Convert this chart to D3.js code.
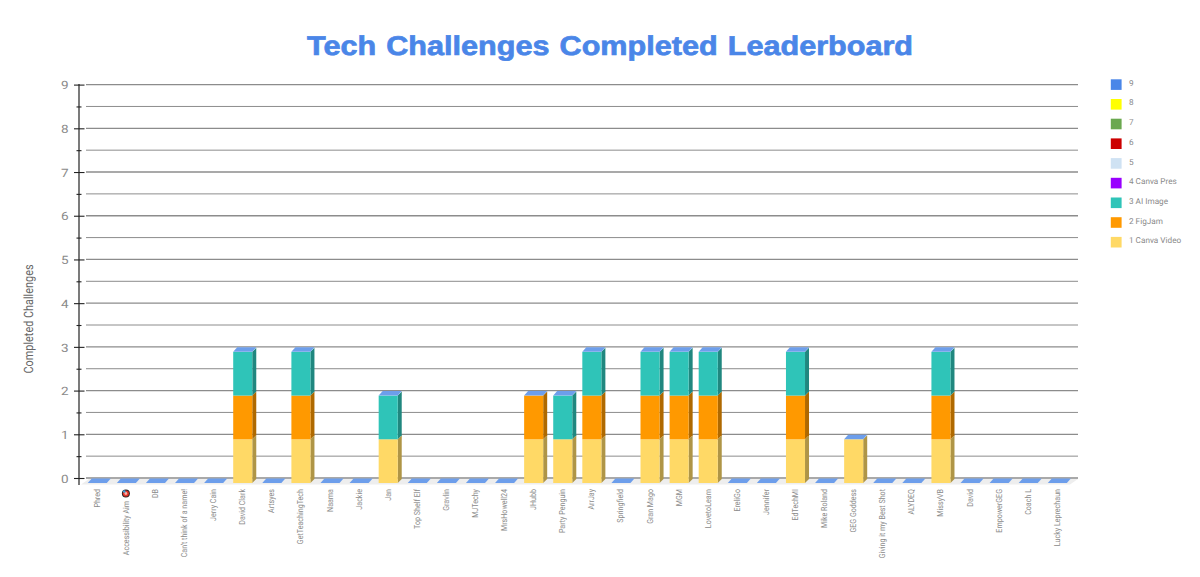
<!DOCTYPE html>
<html><head><meta charset="utf-8">
<script src="https://cdn.jsdelivr.net/npm/d3@7"></script>
<style>html,body{margin:0;padding:0;background:#fff;overflow:hidden}svg{display:block;text-rendering:geometricPrecision}</style>
</head><body><svg id="c" width="1200" height="577"></svg>
<script>
const categories = ["Phred","Accessibility Aim","DB","Can't think of a name!","Jerry Cain","David Clark","Artsyes","GetTeachingTech","Naama","Jackie","Jan","Top Shelf Elf","Gravlin","MJTechy","MrsHowell24","JHubb","Party Penguin","ArrJay","Springfield","Gran Mago","MGM","LovetoLearn","EreliGo","Jennifer","EdTechMI","Mike Roland","GEG Goddess","Giving it my Best Shot","ALYDEQ","MissyVB","David","EmpowerGEG","Coach L","Lucky Leprechaun"];
const canvaVideo = [0,0,0,0,0,1,0,1,0,0,1,0,0,0,0,1,1,1,0,1,1,1,0,0,1,0,1,0,0,1,0,0,0,0];
const figJam     = [0,0,0,0,0,1,0,1,0,0,0,0,0,0,0,1,0,1,0,1,1,1,0,0,1,0,0,0,0,1,0,0,0,0];
const aiImage    = [0,0,0,0,0,1,0,1,0,0,1,0,0,0,0,0,1,1,0,1,1,1,0,0,1,0,0,0,0,1,0,0,0,0];
const legendNames = ["9","8","7","6","5","4 Canva Pres","3 AI Image","2 FigJam","1 Canva Video"];
const legendColors = ["#4a86e8","#ffff00","#6aa84f","#cc0000","#cfe2f3","#9900ff","#2fc4b8","#ff9900","#ffd966"];
const stackSeries = [
  {values:canvaVideo,color:"#ffd966"},
  {values:figJam,color:"#ff9900"},
  {values:aiImage,color:"#2fc4b8"}
];
const yTicks = d3.range(0,9.5,0.5);

const svg = d3.select("#c");
const y = d3.scaleLinear().domain([0,9]).range([478,84.6]);
const x = d3.scaleBand().domain(categories).range([82.8,1071.8]).paddingInner(0.345).paddingOuter(0.17);
const dx = 4, dy = 4, lift = 5;
const squash = 0.85;

// title
svg.append("text").attr("x",610).attr("y",54.5).attr("text-anchor","middle")
  .attr("font-family","'Liberation Sans',Arial,sans-serif").attr("font-weight",700).attr("font-size",27)
  .attr("fill","#4a86e8").attr("stroke","#4a86e8").attr("stroke-width",0.7)
  .attr("word-spacing",1.5)
  .attr("textLength",606).attr("lengthAdjust","spacingAndGlyphs").text("Tech Challenges Completed Leaderboard");

// y axis title
svg.append("text").attr("transform",`translate(33,319) scale(1,${squash}) rotate(-90)`).attr("text-anchor","middle")
  .attr("font-family","Roboto").attr("font-size",12.8).attr("fill","#666").text("Completed Challenges");

// floor
const floor = [[81,484.5],[89,479],[1078,479],[1070,484.5]];
svg.append("path").attr("d",d3.line()(floor)+"Z").attr("fill","#eeeeee");

// gridlines
svg.append("g").selectAll("line").data(yTicks).join("line")
  .attr("x1",86).attr("x2",1078).attr("y1",d=>y(d)).attr("y2",d=>y(d))
  .attr("stroke",d=>d%1===0?"#8c8c8c":"#6e6e6e").attr("stroke-width",d=>d%1===0?1.3:0.8);

// y axis
const axis = svg.append("g").attr("transform","translate(79,0)")
  .call(d3.axisLeft(y).tickValues(yTicks).tickSize(0).tickFormat(d=>d%1===0?d:""));
axis.select(".domain").attr("d",`M0,${y(9)-0.5}V485`).attr("stroke","#222").attr("stroke-width",1.2);
axis.selectAll(".tick line").attr("x1",d=>d%1===0?-5:-2.5).attr("x2",d=>d%1===0?5.5:2.5).attr("stroke","#222").attr("stroke-width",1.1);
axis.selectAll(".tick text").attr("x",-10.5).attr("dy","0.36em").attr("transform",`scale(1,${squash})`)
  .attr("font-family","Roboto").attr("font-size",13.5).attr("fill","#8a8a8a");

// bars
const shade = (c,k)=>d3.rgb(c).darker(k).formatHex();
const bars = svg.append("g");
categories.forEach((cat,i)=>{
  const x0 = x(cat), w = x.bandwidth();
  let base = 0;
  stackSeries.forEach(s=>{
    const v = s.values[i];
    if(!v) return;
    const yb = y(base)+lift, yt = y(base+v)+lift;
    bars.append("path").attr("d",d3.line()([[x0+w,yb],[x0+w+dx,yb-dy],[x0+w+dx,yt-dy],[x0+w,yt]])+"Z").attr("fill",shade(s.color,1.05));
    bars.append("rect").attr("x",x0).attr("y",yt).attr("width",w).attr("height",yb-yt).attr("fill",s.color);
    base += v;
  });
  const yt = y(base)+lift;
  bars.append("path").attr("d",d3.line()([[x0,yt],[x0+dx,yt-dy-0.5],[x0+w+dx,yt-dy-0.5],[x0+w,yt]])+"Z").attr("fill","#6d9eeb");
});

// category labels (the second one sits below its target icon)
svg.append("g").selectAll("text").data(categories).join("text")
  .attr("transform",(d,i)=>`translate(${x(d)+x.bandwidth()/2+2.5},${i===1?501:489}) scale(1,${squash}) rotate(-90)`)
  .attr("text-anchor","end").attr("font-family","Roboto").attr("font-size",8.4).attr("fill","#8a8a8a")
  .text(d=>d);

// target icon beside the second label
const ic = x(categories[1])+x.bandwidth()/2-0.5;
const icon = svg.append("g").attr("transform",`translate(${ic},493.5)`);
icon.append("circle").attr("r",4).attr("fill","#222");
icon.append("circle").attr("r",3.1).attr("fill","#e2352b");
icon.append("circle").attr("r",1.4).attr("fill","#f4b5a8");
icon.append("circle").attr("cx",-1.6).attr("cy",-2).attr("r",1.3).attr("fill","#38a3e0");

// legend
const lg = svg.append("g").selectAll("g").data(legendNames).join("g")
  .attr("transform",(d,i)=>`translate(1110.8,${79.3+i*19.7})`);
lg.append("rect").attr("width",10.8).attr("height",10.6).attr("fill",(d,i)=>legendColors[i]);
lg.append("text").attr("x",18.2).attr("y",6.4).attr("font-family","Roboto").attr("font-size",8.2).attr("fill","#8a8a8a").text(d=>d);
</script></body></html>
